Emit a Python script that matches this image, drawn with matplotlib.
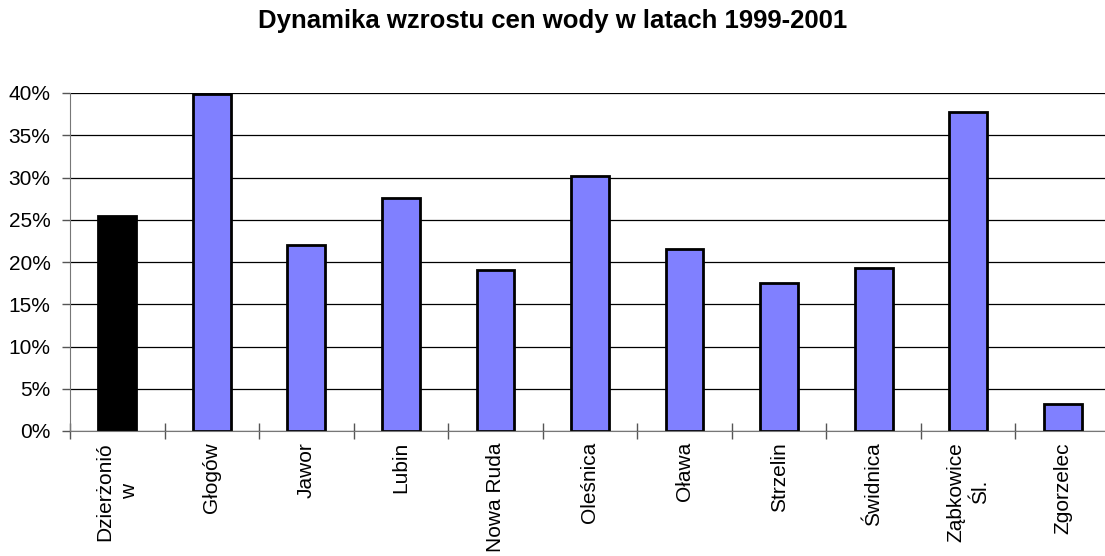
import matplotlib.pyplot as plt
from matplotlib.ticker import FuncFormatter

plt.rcParams['font.family'] = ['Liberation Sans', 'DejaVu Sans']

miasta = ['Dzierżonió\nw', 'Głogów', 'Jawor', 'Lubin', 'Nowa Ruda', 'Oleśnica',
          'Oława', 'Strzelin', 'Świdnica', 'Ząbkowice\nŚl.', 'Zgorzelec']
wzrost = [0.254, 0.399, 0.220, 0.276, 0.190, 0.302, 0.215, 0.175, 0.193, 0.377, 0.032]
kolory = ['#000000'] + ['#8080FF'] * 10

fig = plt.figure(figsize=(11.05, 5.56), dpi=100)
ax = fig.add_axes([70 / 1105, 125 / 556, 1040 / 1105, 338 / 556])

x = range(len(miasta))
ax.bar(x, wzrost, width=0.4, color=kolory, edgecolor='black', linewidth=2.0, zorder=3)

ax.set_xlim(-0.5, len(miasta) - 0.5)
ax.set_ylim(0, 0.40)
ax.set_yticks([i * 0.05 for i in range(9)])
ax.yaxis.set_major_formatter(FuncFormatter(lambda v, p: '%d%%' % round(v * 100)))
ax.grid(axis='y', color='black', linewidth=0.9, zorder=0)

ax.set_xticks([i - 0.5 for i in range(len(miasta) + 1)])
ax.set_xticklabels([])
ax.set_xticks(list(x), minor=True)
ax.set_xticklabels(miasta, minor=True, rotation=90, va='top', ha='center',
                   multialignment='center', fontsize=15, linespacing=1.35)
ax.tick_params(axis='x', which='major', direction='inout', length=12, width=1, color='#555555')
ax.tick_params(axis='x', which='minor', length=0, pad=8)
ax.tick_params(axis='y', direction='out', length=6, width=1, color='#555555', labelsize=15, pad=8)

for s in ['top', 'right']:
    ax.spines[s].set_visible(False)
ax.spines['left'].set_color('#777777')
ax.spines['bottom'].set_color('#777777')
ax.spines['bottom'].set_zorder(4)

fig.text(0.5, 1 - 21 / 556, 'Dynamika wzrostu cen wody w latach 1999-2001',
         ha='center', va='center', fontsize=18.5, fontweight='bold')

plt.savefig('out.png', dpi=100)
